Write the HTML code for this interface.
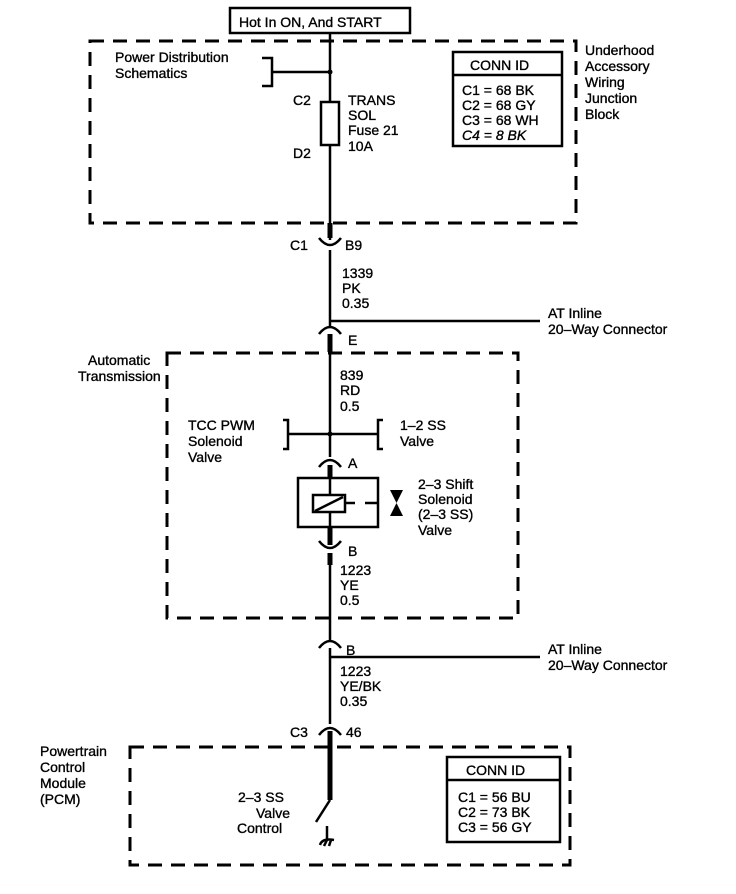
<!DOCTYPE html>
<html><head><style>body{margin:0;background:#fff}svg{display:block}text{font-family:"Liberation Sans",sans-serif;font-size:14px;fill:#000;stroke:#000;stroke-width:0.35}</style></head><body>
<svg width="736" height="894" viewBox="0 0 736 894" xmlns="http://www.w3.org/2000/svg">
<g fill="none" stroke="#000">
<rect x="230" y="8" width="180" height="25" stroke-width="2.5"/>
<g stroke-width="3" stroke-dasharray="14,9">
<rect x="90" y="41" width="486" height="182"/>
<rect x="167" y="353" width="351" height="265"/>
<rect x="130" y="747" width="440" height="118"/>
</g>
<g stroke-width="2.5">
<line x1="330" y1="33" x2="330" y2="102"/>
<rect x="321" y="102" width="18" height="43"/>
<line x1="330" y1="145" x2="330" y2="240"/>
<line x1="330" y1="223" x2="330" y2="238" stroke-width="5"/>
<line x1="272" y1="72" x2="330" y2="72"/>
<polyline points="262,58 272,58 272,86 262,86"/>
<path d="M319,238 Q330,252 341,238"/>
<line x1="330" y1="250" x2="330" y2="326"/>
<path d="M319,334 Q330,320 341,334"/>
<line x1="330" y1="321" x2="540" y2="321"/>
<line x1="330" y1="334" x2="330" y2="457"/>
<line x1="330" y1="334" x2="330" y2="352" stroke-width="5"/>
<line x1="288" y1="434" x2="378" y2="434"/>
<polyline points="283,420 288,420 288,449 283,449"/>
<polyline points="383,420 378,420 378,449 383,449"/>
<path d="M319,467 Q330,453 341,467"/>
<line x1="330" y1="465" x2="330" y2="545" stroke-width="5"/>
<rect x="298" y="478" width="80" height="49" fill="#fff"/>
<line x1="330" y1="478" x2="330" y2="527"/>
<rect x="313" y="495" width="32" height="17" fill="#fff"/>
<line x1="315" y1="511" x2="343" y2="497"/>
<line x1="345" y1="503" x2="355" y2="503"/>
<line x1="365" y1="503" x2="378" y2="503"/>
<path d="M319,541 Q330,555 341,541"/>
<line x1="330" y1="553" x2="330" y2="640"/>
<line x1="330" y1="553" x2="330" y2="565" stroke-width="5"/>
<path d="M319,648 Q330,634 341,648"/>
<line x1="330" y1="657" x2="540" y2="657"/>
<line x1="330" y1="648" x2="330" y2="724"/>
<path d="M319,735 Q330,721 341,735"/>
<line x1="330" y1="731" x2="330" y2="800" stroke-width="5"/>
<line x1="330" y1="800" x2="316" y2="822"/>
<line x1="327" y1="826" x2="327" y2="840"/>
<path d="M320,845 Q322,838 334,840 M324,846 L327,840 M329,846 L331,840"/>
<rect x="453" y="52" width="109" height="94" stroke-width="2.5"/>
<line x1="453" y1="75" x2="562" y2="75" stroke-width="2.5"/>
<rect x="447" y="757" width="113" height="85" stroke-width="2.5"/>
<line x1="447" y1="780" x2="560" y2="780" stroke-width="2.5"/>
</g>
</g>
<circle cx="330" cy="72" r="2.5"/><circle cx="330" cy="434" r="2.5"/>
<polygon points="390,490 403,490 390,516 403,516"/>
<text x="239" y="27" font-size="15">Hot In ON, And START</text>
<text x="115" y="62">Power Distribution</text><text x="115" y="78">Schematics</text>
<text x="293" y="105">C2</text><text x="293" y="158">D2</text>
<text x="348" y="105">TRANS</text><text x="348" y="120">SOL</text><text x="348" y="135">Fuse 21</text><text x="348" y="151">10A</text>
<text x="470" y="70">CONN ID</text>
<text x="462" y="95">C1 = 68 BK</text><text x="462" y="110">C2 = 68 GY</text><text x="462" y="125">C3 = 68 WH</text><text x="462" y="140" font-style="italic">C4 = 8 BK</text>
<text x="585" y="55">Underhood</text><text x="585" y="71">Accessory</text><text x="585" y="87">Wiring</text><text x="585" y="103">Junction</text><text x="585" y="119">Block</text>
<text x="290" y="250">C1</text><text x="345" y="250">B9</text>
<text x="342" y="278">1339</text><text x="342" y="293">PK</text><text x="342" y="308">0.35</text>
<text x="548" y="318">AT Inline</text><text x="548" y="334">20–Way Connector</text>
<text x="348" y="345">E</text>
<text x="88" y="365">Automatic</text><text x="78" y="381">Transmission</text>
<text x="340" y="380">839</text><text x="340" y="395">RD</text><text x="340" y="411">0.5</text>
<text x="188" y="430">TCC PWM</text><text x="188" y="446">Solenoid</text><text x="188" y="462">Valve</text>
<text x="400" y="430">1–2 SS</text><text x="400" y="446">Valve</text>
<text x="348" y="468">A</text>
<text x="418" y="489">2–3 Shift</text><text x="418" y="504">Solenoid</text><text x="418" y="519">(2–3 SS)</text><text x="418" y="535">Valve</text>
<text x="348" y="556">B</text>
<text x="340" y="575">1223</text><text x="340" y="590">YE</text><text x="340" y="605">0.5</text>
<text x="346" y="655">B</text>
<text x="548" y="654">AT Inline</text><text x="548" y="670">20–Way Connector</text>
<text x="340" y="676">1223</text><text x="340" y="691">YE/BK</text><text x="340" y="706">0.35</text>
<text x="290" y="737">C3</text><text x="346" y="737">46</text>
<text x="40" y="756">Powertrain</text><text x="40" y="772">Control</text><text x="40" y="788">Module</text><text x="40" y="804">(PCM)</text>
<text x="238" y="802">2–3 SS</text><text x="256" y="818">Valve</text><text x="237" y="833">Control</text>
<text x="466" y="775">CONN ID</text>
<text x="458" y="802">C1 = 56 BU</text><text x="458" y="817">C2 = 73 BK</text><text x="458" y="832">C3 = 56 GY</text>
</svg>
</body></html>
